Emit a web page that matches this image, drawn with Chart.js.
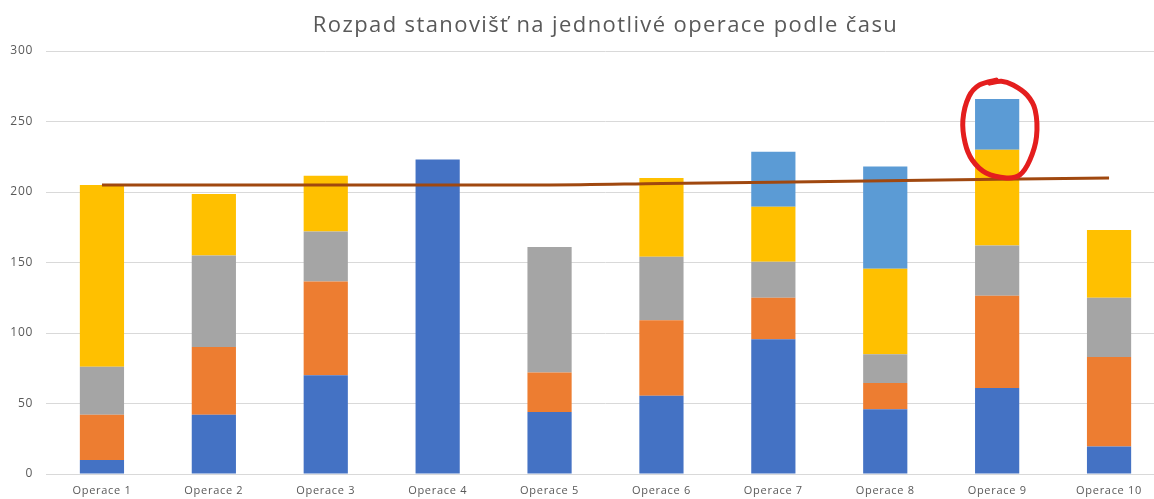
<!DOCTYPE html>
<html lang="cs">
<head>
<meta charset="utf-8">
<title>Rozpad stanovišť na jednotlivé operace podle času</title>
<script src="https://cdn.jsdelivr.net/npm/chart.js@4.4.1/dist/chart.umd.min.js"></script>
<style>
  html, body { margin: 0; padding: 0; background: #ffffff; overflow: hidden; }
  #wrap { width: 1154px; height: 499px; overflow: hidden; }
  canvas { display: block; }
</style>
</head>
<body>
<div id="wrap"><canvas id="chart" width="1166" height="499"></canvas></div>
<script>
// Operations on the category axis
const operace = ['Operace 1', 'Operace 2', 'Operace 3', 'Operace 4', 'Operace 5',
                 'Operace 6', 'Operace 7', 'Operace 8', 'Operace 9', 'Operace 10'];

// Time per workstation stage (stacked, bottom to top)
const cast1 = [10, 42, 70, 223, 44, 55.5, 95.5, 46, 61, 19.5];
const cast2 = [32, 48, 66.5, null, 28, 53.5, 29.5, 18.5, 65.5, 63.5];
const cast3 = [34, 65, 35.5, null, 89, 45, 25.5, 20.5, 35.5, 42];
const cast4 = [129, 43.5, 39.5, null, null, 56, 39, 60.5, 68, 48];
const cast5 = [null, null, null, null, null, null, 39, 72.5, 36, null];

// Trend line over the operations
const trend = [205, 205, 205, 205, 205, 206, 207, 208, 209, 210];

// Value axis ticks
const yTicks = [0, 50, 100, 150, 200, 250, 300];

const barColors = ['#4472C4', '#ED7D31', '#A5A5A5', '#FFC000', '#5B9BD5'];
const barSeries = [cast1, cast2, cast3, cast4, cast5];

const FONT = '"Open Sans", "Noto Sans", sans-serif';
const TEXT = '#595959';
const TICK_SPACING = '0.7px';
const TITLE_SPACING = '1.4px';

// Hand-drawn loop around the top segment of Operace 9.
// dx is in half bar widths from the bar centre, v is in axis units.
const loopIndex = 8;
const loopPath = [
  [-0.04, 279.4], [-0.8, 275.9], [-1.28, 267.6], [-1.55, 251.1], [-1.45, 234.8],
  [-1.13, 222.7], [-0.5, 213.5], [0.42, 210.0], [1.02, 212.0], [1.48, 222.7],
  [1.78, 239.2], [1.72, 258.2], [1.35, 268.8], [0.72, 275.9], [0.19, 278.6],
  [-0.34, 277.2]
];

const loopPlugin = {
  id: 'loopMark',
  afterDatasetsDraw(chart) {
    const meta = chart.getDatasetMeta(0);
    const bar = meta.data[loopIndex];
    if (!bar) return;
    const half = bar.width / 2;
    const ys = chart.scales.y;
    const pts = loopPath.map(([dx, v]) => [bar.x + dx * half, ys.getPixelForValue(v)]);
    const ctx = chart.ctx;
    ctx.save();
    ctx.strokeStyle = '#E41E1E';
    ctx.lineWidth = 5;
    ctx.lineCap = 'round';
    ctx.lineJoin = 'round';
    ctx.beginPath();
    ctx.moveTo(pts[0][0], pts[0][1]);
    // Catmull-Rom through the points
    for (let i = 0; i < pts.length - 1; i++) {
      const p0 = pts[Math.max(i - 1, 0)];
      const p1 = pts[i];
      const p2 = pts[i + 1];
      const p3 = pts[Math.min(i + 2, pts.length - 1)];
      const c1x = p1[0] + (p2[0] - p0[0]) / 6;
      const c1y = p1[1] + (p2[1] - p0[1]) / 6;
      const c2x = p2[0] - (p3[0] - p1[0]) / 6;
      const c2y = p2[1] - (p3[1] - p1[1]) / 6;
      ctx.bezierCurveTo(c1x, c1y, c2x, c2y, p2[0], p2[1]);
    }
    ctx.stroke();
    ctx.restore();
  }
};

// Slightly looser letter spacing for axis labels and the title
const spacingPlugin = {
  id: 'textSpacing',
  afterLayout(chart) {
    const block = chart.titleBlock;
    if (block && !block._spaced) {
      const orig = block.draw.bind(block);
      block.draw = function () {
        const ctx = chart.ctx;
        const prev = ctx.letterSpacing;
        ctx.letterSpacing = TITLE_SPACING;
        orig();
        ctx.letterSpacing = prev;
      };
      block._spaced = true;
    }
  },
  beforeDraw(chart) { chart.ctx.letterSpacing = TICK_SPACING; },
  afterDraw(chart) { chart.ctx.letterSpacing = '0px'; }
};

const datasets = barSeries.map((values, i) => ({
  type: 'bar',
  label: 'Část ' + (i + 1),
  data: values,
  backgroundColor: barColors[i],
  borderWidth: 0,
  barPercentage: 0.395,
  categoryPercentage: 1,
  stack: 'casy',
  order: 2
}));

datasets.push({
  type: 'line',
  label: 'Trend',
  data: trend,
  borderColor: '#A0480F',
  borderWidth: 3,
  pointRadius: 0,
  fill: false,
  cubicInterpolationMode: 'monotone',
  stack: 'trend',
  order: 1
});

new Chart(document.getElementById('chart'), {
  data: { labels: operace, datasets },
  options: {
    responsive: false,
    devicePixelRatio: 1,
    animation: false,
    layout: { padding: { left: 0, right: 1, top: 0, bottom: 0 } },
    plugins: {
      legend: { display: false },
      tooltip: { enabled: false },
      title: {
        display: true,
        text: 'Rozpad stanovišť na jednotlivé operace podle času',
        color: TEXT,
        fullSize: false,
        font: { family: FONT, size: 22, weight: 'normal', lineHeight: 1.2 },
        padding: { top: 13, bottom: 11.6 }
      }
    },
    scales: {
      x: {
        stacked: true,
        grid: { display: false, drawTicks: false },
        border: { display: true, color: '#D9D9D9', width: 1 },
        ticks: { color: TEXT, font: { family: FONT, size: 11 }, padding: 10, maxRotation: 0, autoSkip: false },
        afterFit(s) { s.height = 25; }
      },
      y: {
        stacked: true,
        min: 0,
        max: 300,
        afterBuildTicks(s) { s.ticks = yTicks.map(v => ({ value: v })); },
        grid: { color: '#D9D9D9', lineWidth: 1, drawTicks: false },
        border: { display: false },
        ticks: { color: TEXT, font: { family: FONT, size: 12 }, padding: 13 },
        afterFit(s) { s.width = 46; }
      }
    }
  },
  plugins: [loopPlugin, spacingPlugin]
});
</script>
</body>
</html>
